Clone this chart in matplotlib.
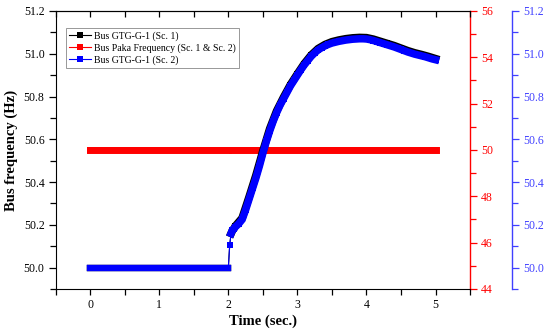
import numpy as np
import matplotlib
matplotlib.use("Agg")
import matplotlib.pyplot as plt
from matplotlib.lines import Line2D
from matplotlib.ticker import MultipleLocator, FormatStrFormatter

plt.rcParams["font.family"] = ["Liberation Serif", "DejaVu Serif"]

# Sc. 2 (blue): flat part 0..2 s, then transient sampled every 0.05 s
t_flat = [round(0.05 * i, 2) for i in range(41)]
f_flat = [50.0] * 41

t_jump = [2.02, 2.04, 2.06, 2.08]
f_jump = [50.107, 50.160, 50.175, 50.182]

t_rise = [2.10, 2.15, 2.20, 2.25, 2.30, 2.35, 2.40, 2.45, 2.50, 2.55,
          2.60, 2.65, 2.70, 2.75, 2.80, 2.85, 2.90, 2.95, 3.00, 3.05,
          3.10, 3.15, 3.20, 3.25, 3.30, 3.35, 3.40, 3.45, 3.50, 3.55,
          3.60, 3.65, 3.70, 3.75, 3.80, 3.85, 3.90, 3.95, 4.00, 4.05,
          4.10, 4.15, 4.20, 4.25, 4.30, 4.35, 4.40, 4.45, 4.50, 4.55,
          4.60, 4.65, 4.70, 4.75, 4.80, 4.85, 4.90, 4.95, 5.00]
f_sc2 = [50.190, 50.205, 50.225, 50.270, 50.320, 50.370, 50.420, 50.475, 50.535, 50.590,
         50.640, 50.685, 50.725, 50.760, 50.790, 50.820, 50.850, 50.875, 50.900, 50.925,
         50.948, 50.968, 50.988, 51.004, 51.018, 51.028, 51.037, 51.044, 51.050, 51.054,
         51.058, 51.061, 51.064, 51.066, 51.068, 51.069, 51.070, 51.070, 51.069, 51.066,
         51.062, 51.057, 51.052, 51.047, 51.042, 51.037, 51.032, 51.026, 51.020, 51.014,
         51.008, 51.003, 50.998, 50.994, 50.990, 50.986, 50.981, 50.976, 50.972]

# Sc. 1 (black): practically the same, a hair higher during the transient
t_sc1 = [2.10, 2.20, 2.30, 2.40, 2.50, 2.60, 2.70, 2.80, 2.90, 3.00,
         3.10, 3.20, 3.30, 3.40, 3.50, 3.60, 3.70, 3.80, 3.90, 4.00,
         4.10, 4.20, 4.30, 4.40, 4.50, 4.60, 4.70, 4.80, 4.90, 5.00]
f_sc1 = [50.194, 50.232, 50.330, 50.432, 50.545, 50.650, 50.733, 50.797, 50.856, 50.906,
         50.954, 50.994, 51.024, 51.043, 51.056, 51.064, 51.070, 51.074, 51.076, 51.075,
         51.068, 51.058, 51.048, 51.038, 51.026, 51.014, 51.004, 50.996, 50.987, 50.977]

# Bus Paka frequency (red axis)
t_paka = [round(0.05 * i, 2) for i in range(101)]
f_paka = [50.0] * 101

t_sc2 = np.array(t_flat + t_jump + t_rise)
f_sc2_all = np.array(f_flat + f_jump + f_sc2)
t_sc1_all = np.array(t_flat + t_jump + t_sc1)
f_sc1_all = np.array(f_flat + f_jump + f_sc1)

RED = "#ff0000"
BLUE = "#0000ff"
BLUE_AX = "#4040ff"

fig = plt.figure(figsize=(5.5, 3.31), dpi=100)
ax = fig.add_axes([0.1013, 0.1269, 0.7533, 0.8399])
ax_r = ax.twinx()
ax_b = ax.twinx()
ax_b.spines["right"].set_position(("outward", 30))


def band(axis, t, f, color, z, lw_flat=4.6, lw_rise=5.0):
    t = np.asarray(t)
    f = np.asarray(f)
    for m, lw in ((t <= 2.0, lw_flat), (t >= 2.04, lw_rise)):
        axis.plot(t[m], f[m], color=color, lw=lw, solid_capstyle="projecting",
                  solid_joinstyle="miter", zorder=z)
    axis.plot(t, f, "s-", color=color, lw=0.8, ms=5.0, mew=0, zorder=z)


band(ax, t_sc1_all, f_sc1_all, "black", 2, lw_rise=5.6)
band(ax, t_sc2, f_sc2_all, BLUE, 3, lw_rise=5.4)
band(ax_r, t_paka, f_paka, RED, 2, lw_flat=5.0)

ax.set_xlim(-0.5, 5.5)
ax.set_ylim(49.9, 51.2)
ax_r.set_ylim(44, 56)
ax_b.set_ylim(49.9, 51.2)
ax.set_zorder(ax_r.get_zorder() + 2)
ax.patch.set_visible(False)

ax.xaxis.set_major_locator(MultipleLocator(1))
ax.xaxis.set_minor_locator(MultipleLocator(0.5))
ax.yaxis.set_major_locator(MultipleLocator(0.2))
ax.yaxis.set_minor_locator(MultipleLocator(0.1))
ax.yaxis.set_major_formatter(FormatStrFormatter("%.1f"))
ax_r.yaxis.set_major_locator(MultipleLocator(2))
ax_r.yaxis.set_minor_locator(MultipleLocator(1))
ax_b.yaxis.set_major_locator(MultipleLocator(0.2))
ax_b.yaxis.set_minor_locator(MultipleLocator(0.1))
ax_b.yaxis.set_major_formatter(FormatStrFormatter("%.1f"))

LS = 8.5
ax.tick_params(axis="x", which="both", direction="out", length=4, top=False,
               labelsize=LS, pad=3, width=0.9)
ax.tick_params(axis="y", which="major", direction="out", length=5, labelsize=LS,
               pad=3, width=0.9, right=False)
ax.tick_params(axis="y", which="minor", direction="out", length=4, width=0.9, right=False)
sec = ax.secondary_xaxis("top")
sec.xaxis.set_major_locator(MultipleLocator(0.5))
sec.tick_params(direction="in", length=4, labeltop=False, width=0.9)

ax_r.tick_params(axis="y", which="both", colors=RED, labelsize=LS, pad=3, width=0.9)
ax_r.tick_params(axis="y", which="major", length=5)
ax_r.tick_params(axis="y", which="minor", length=4)
ax_r.spines["right"].set_color(RED)
ax_r.spines["right"].set_linewidth(1.0)

ax_b.tick_params(axis="y", which="both", colors=BLUE_AX, labelsize=LS, pad=3, width=0.9)
ax_b.tick_params(axis="y", which="major", length=5)
ax_b.tick_params(axis="y", which="minor", length=4)
ax_b.spines["right"].set_color(BLUE_AX)
ax_b.spines["right"].set_linewidth(1.0)
for s in ("top", "left", "bottom"):
    ax_b.spines[s].set_visible(False)
    ax_r.spines[s].set_visible(False)
ax.spines["right"].set_visible(False)

ax.set_xlabel("Time (sec.)", fontsize=10.5, fontweight="bold", labelpad=3)
ax.set_ylabel("Bus frequency (Hz)", fontsize=10.5, fontweight="bold", labelpad=4)

handles = [
    Line2D([], [], color="black", marker="s", ms=4.5, mew=0, lw=0.8),
    Line2D([], [], color=RED, marker="s", ms=4.5, mew=0, lw=0.8),
    Line2D([], [], color=BLUE, marker="s", ms=4.5, mew=0, lw=0.8),
]
labels = ["Bus GTG-G-1 (Sc. 1)", "Bus Paka Frequency (Sc. 1 & Sc. 2)", "Bus GTG-G-1 (Sc. 2)"]
leg = ax.legend(handles, labels, loc="upper left", bbox_to_anchor=(0.025, 0.94),
                borderaxespad=0, fontsize=7, fancybox=False, edgecolor="#888888",
                framealpha=1, handlelength=2.2, handletextpad=0.3, labelspacing=0.25,
                borderpad=0.35)
leg.get_frame().set_linewidth(0.6)

fig.savefig("out.png", dpi=100)
